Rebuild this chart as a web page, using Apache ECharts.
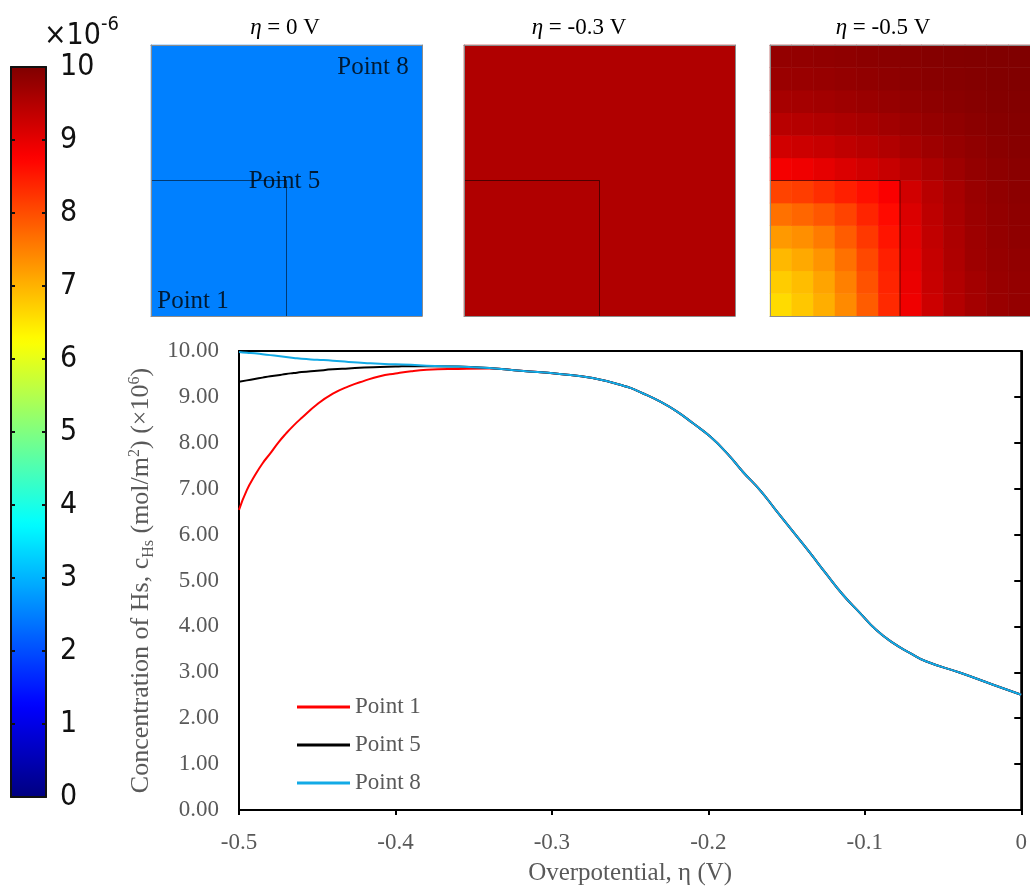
<!DOCTYPE html>
<html><head><meta charset="utf-8">
<script src="https://cdn.jsdelivr.net/npm/echarts@6/dist/echarts.min.js"></script>
<style>html,body{margin:0;padding:0;background:#fff}#c{width:1030px;height:891px}</style>
</head><body><div id="c"></div>
<script>
// ---------- data ----------
const etas = [-0.5,-0.495,-0.49,-0.485,-0.48,-0.475,-0.47,-0.465,-0.46,-0.45,-0.44,-0.43,-0.42,-0.41,-0.40,-0.39,-0.38,-0.36,-0.34,
  -0.32,-0.295,-0.274,-0.252,-0.242,-0.231,-0.220,-0.210,-0.199,-0.188,-0.178,-0.167,-0.157,-0.146,-0.135,-0.125,-0.114,-0.103,-0.093,-0.082,-0.071,-0.061,-0.039,-0.018,0];
const point1 = [6.54,6.97,7.28,7.55,7.77,8.00,8.20,8.38,8.54,8.84,9.07,9.23,9.35,9.45,9.51,9.56,9.59,9.61,9.62,
  9.57,9.50,9.41,9.22,9.08,8.90,8.68,8.43,8.14,7.77,7.37,6.97,6.54,6.07,5.60,5.16,4.69,4.29,3.93,3.64,3.42,3.24,2.99,2.73,2.51];
const point5 = [9.33,9.36,9.39,9.42,9.45,9.47,9.50,9.52,9.54,9.57,9.60,9.62,9.64,9.65,9.66,9.67,9.67,9.66,9.63,
  9.57,9.50,9.41,9.22,9.08,8.90,8.68,8.43,8.14,7.77,7.37,6.97,6.54,6.07,5.60,5.16,4.69,4.29,3.93,3.64,3.42,3.24,2.99,2.73,2.51];
const point8 = [9.98,9.96,9.95,9.93,9.91,9.89,9.87,9.85,9.83,9.81,9.79,9.76,9.74,9.72,9.71,9.70,9.68,9.66,9.63,
  9.57,9.50,9.41,9.22,9.08,8.90,8.68,8.43,8.14,7.77,7.37,6.97,6.54,6.07,5.60,5.16,4.69,4.29,3.93,3.64,3.42,3.24,2.99,2.73,2.51];
const seriesNames = ['Point 1','Point 5','Point 8'];
const seriesColors = ['#ff0000','#000000','#12aae6'];

const panelTitles = ['0','-0.3','-0.5'];
// concentration fields (×1e-6), rows from bottom to top, columns left to right
const field0V = [[2.5]];
const field03V = [[9.53]];
const field05V = [
  [6.60,6.80,7.05,7.40,7.85,8.35,8.90,9.25,9.50,9.65,9.75,9.80],
  [6.75,6.90,7.15,7.50,7.95,8.40,8.95,9.30,9.52,9.66,9.76,9.80],
  [6.95,7.10,7.30,7.65,8.05,8.45,9.00,9.32,9.55,9.70,9.78,9.82],
  [7.25,7.35,7.55,7.85,8.20,8.55,9.05,9.36,9.57,9.71,9.80,9.85],
  [7.65,7.75,7.90,8.10,8.40,8.65,9.10,9.40,9.60,9.73,9.81,9.86],
  [8.10,8.15,8.30,8.45,8.60,8.80,9.20,9.45,9.62,9.75,9.83,9.88],
  [8.85,8.90,9.00,9.10,9.20,9.30,9.45,9.58,9.70,9.80,9.86,9.90],
  [9.20,9.25,9.30,9.38,9.45,9.52,9.62,9.70,9.78,9.84,9.90,9.93],
  [9.45,9.48,9.52,9.57,9.62,9.68,9.73,9.79,9.84,9.89,9.93,9.95],
  [9.62,9.64,9.67,9.70,9.74,9.78,9.82,9.86,9.90,9.93,9.96,9.97],
  [9.74,9.75,9.77,9.80,9.83,9.86,9.89,9.92,9.94,9.96,9.98,9.99],
  [9.80,9.81,9.83,9.85,9.88,9.90,9.92,9.95,9.97,9.98,9.99,10.00]
];
const fields = [field0V, field03V, field05V];
const innerSquare = [[0,0.5],[0.5,0.5],[0.5,0]];
const pointMarks = [
  {name:'Point 1', value:[0,0], label:{position:[42,-15]}},
  {name:'Point 5', value:[0.5,0.5], label:{position:[-2,1]}},
  {name:'Point 8', value:[1,1], label:{position:[-49,22]}}
];
const jet = ['#000080','#0000ff','#0080ff','#00ffff','#80ff80','#ffff00','#ff8000','#ff0000','#800000'];

// ---------- layout ----------
const serif = "'Liberation Serif','Times New Roman',serif";
const sans = "'DejaVu Sans Condensed','DejaVu Sans',sans-serif";
const gray = '#595959';
const panelLefts = [151, 464, 770];
const panelTitleX = [285, 579, 883];

const grids = [
  {left:239, top:351, width:783, height:460, show:true, borderColor:'#000', borderWidth:2},
  {left:11, top:67, width:35, height:730}
];
panelLefts.forEach(l => grids.push({left:l, top:45, width:271, height:271}));

const hid = {axisLabel:{show:false}, axisTick:{show:false}, splitLine:{show:false}};
const xAxes = [
  {type:'value', gridIndex:0, min:-0.5, max:0, interval:0.1, position:'bottom',
   axisLine:{onZero:false, lineStyle:{color:'#000', width:2}},
   axisTick:{show:true, inside:false, length:5, lineStyle:{color:'#000', width:2}},
   axisLabel:{color:gray, fontFamily:serif, fontSize:23, margin:21},
   splitLine:{show:false},
   name:'Overpotential, η (V)', nameLocation:'middle', nameGap:51,
   nameTextStyle:{color:gray, fontFamily:serif, fontSize:25}},
  Object.assign({type:'value', gridIndex:1, position:'bottom', z:10, axisLine:{onZero:false, lineStyle:{color:'#111', width:2}}}, hid),
  Object.assign({type:'value', gridIndex:1, position:'top', z:10, axisLine:{onZero:false, lineStyle:{color:'#111', width:2}}}, hid)
];
const yAxes = [
  {type:'value', gridIndex:0, min:0, max:10, interval:1, position:'left',
   axisLine:{onZero:false, lineStyle:{color:'#000', width:2}},
   axisTick:{show:false},
   axisLabel:{color:gray, fontFamily:serif, fontSize:23, margin:20, formatter:v => v.toFixed(2)},
   splitLine:{show:false},
   name:'{n|Concentration of Hs, c}{sub|Hs}{n| (mol/m}{sup|2}{n|) (×10}{sup|6}{n|)}',
   nameLocation:'middle', nameGap:81, nameRotate:90,
   nameTextStyle:{color:gray, fontFamily:serif, fontSize:26,
     rich:{n:{color:gray, fontFamily:serif, fontSize:26, lineHeight:30, verticalAlign:'middle'},
           sub:{color:gray, fontFamily:serif, fontSize:16, lineHeight:30, verticalAlign:'bottom'},
           sup:{color:gray, fontFamily:serif, fontSize:16, lineHeight:30, verticalAlign:'top'}}}},
  {type:'value', gridIndex:0, min:0, max:10, interval:1, position:'right',
   axisLine:{onZero:false, lineStyle:{color:'#000', width:2}},
   axisTick:{show:true, inside:true, length:7, lineStyle:{color:'#000', width:2}},
   axisLabel:{show:false}, splitLine:{show:false}},
  {type:'value', gridIndex:1, min:0, max:10, interval:1, position:'left', z:10,
   axisLine:{onZero:false, lineStyle:{color:'#111', width:2}},
   axisTick:{show:true, inside:true, length:4, lineStyle:{color:'#111', width:2}},
   axisLabel:{show:false}, splitLine:{show:false}},
  {type:'value', gridIndex:1, min:0, max:10, interval:1, position:'right', z:10,
   axisLine:{onZero:false, lineStyle:{color:'#111', width:2}},
   axisTick:{show:true, inside:true, length:4, lineStyle:{color:'#111', width:2}},
   axisLabel:{color:'#111', fontFamily:sans, fontSize:30, margin:14},
   splitLine:{show:false}}
];
const panelLine = {onZero:false, lineStyle:{color:'#8c8c8c', width:1}};
fields.forEach((f, k) => {
  const g = 2 + k;
  const nx = f[0].length, ny = f.length;
  xAxes.push(Object.assign({type:'category', gridIndex:g, position:'bottom', z:5, boundaryGap:true,
    data:Array.from({length:nx}, (_, i) => String(i)), axisLine:panelLine}, hid));
  xAxes.push(Object.assign({type:'value', gridIndex:g, position:'top', z:5, min:0, max:1, axisLine:panelLine}, hid));
  yAxes.push(Object.assign({type:'category', gridIndex:g, position:'left', z:5, boundaryGap:true,
    data:Array.from({length:ny}, (_, i) => String(i)), axisLine:panelLine}, hid));
  yAxes.push(Object.assign({type:'value', gridIndex:g, position:'right', z:5, min:0, max:1, axisLine:panelLine}, hid));
});

const series = [];
[point1, point5, point8].forEach((d, s) => {
  series.push({type:'line', name:seriesNames[s], xAxisIndex:0, yAxisIndex:0,
    data:etas.map((x, i) => [x, d[i]]), symbol:'none', smooth:0.5,
    lineStyle:{color:seriesColors[s], width:2}, itemStyle:{color:seriesColors[s]}});
});
fields.forEach((f, k) => {
  const data = [];
  f.forEach((row, j) => row.forEach((v, i) => data.push([i, j, v])));
  series.push({type:'heatmap', xAxisIndex:3 + 2*k, yAxisIndex:4 + 2*k, data,
    itemStyle:{borderWidth:0}, emphasis:{disabled:true}});
});
fields.forEach((f, k) => {
  series.push({type:'line', xAxisIndex:4 + 2*k, yAxisIndex:5 + 2*k, data:innerSquare,
    symbol:'none', z:4, lineStyle:{color:'rgba(0,0,0,0.55)', width:1}, silent:true});
});
series.push({type:'scatter', xAxisIndex:4, yAxisIndex:5, data:pointMarks, symbolSize:0, z:6, silent:true,
  label:{show:true, formatter:p => p.name, color:'#000', fontFamily:serif, fontSize:25,
    align:'center', verticalAlign:'middle'}});

const graphics = [
  {type:'text', x:44, y:15, style:{text:'{b|×10}{s|-6}',
    rich:{b:{fontSize:30, fontFamily:sans, fill:'#111', lineHeight:36, verticalAlign:'bottom'},
          s:{fontSize:20, fontFamily:sans, fill:'#111', lineHeight:36, verticalAlign:'top'}}}}
];
panelTitles.forEach((t, k) => {
  graphics.push({type:'text', x:panelTitleX[k], y:28, style:{
    text:'{i|η} = ' + t + ' V', align:'center', verticalAlign:'middle',
    fontFamily:serif, fontSize:23, fill:'#000',
    rich:{i:{fontFamily:serif, fontSize:23, fontStyle:'italic', fill:'#000'}}}});
});

const option = {
  animation:false,
  backgroundColor:'#fff',
  grid:grids, xAxis:xAxes, yAxis:yAxes, series,
  visualMap:{type:'continuous', min:0, max:10, seriesIndex:[3,4,5], orient:'vertical',
    left:11, top:67, itemWidth:35, itemHeight:730, padding:0, calculable:false,
    hoverLink:false, inRange:{color:jet}},
  legend:{data:seriesNames.map(n => ({name:n, icon:'rect'})), orient:'vertical', left:297, top:695, padding:0,
    itemWidth:53, itemHeight:3, itemGap:14,
    textStyle:{color:gray, fontFamily:serif, fontSize:23, lineHeight:24}},
  graphic:graphics
};
const chart = echarts.init(document.getElementById('c'), null, {renderer:'canvas'});
chart.setOption(option);
</script></body></html>
